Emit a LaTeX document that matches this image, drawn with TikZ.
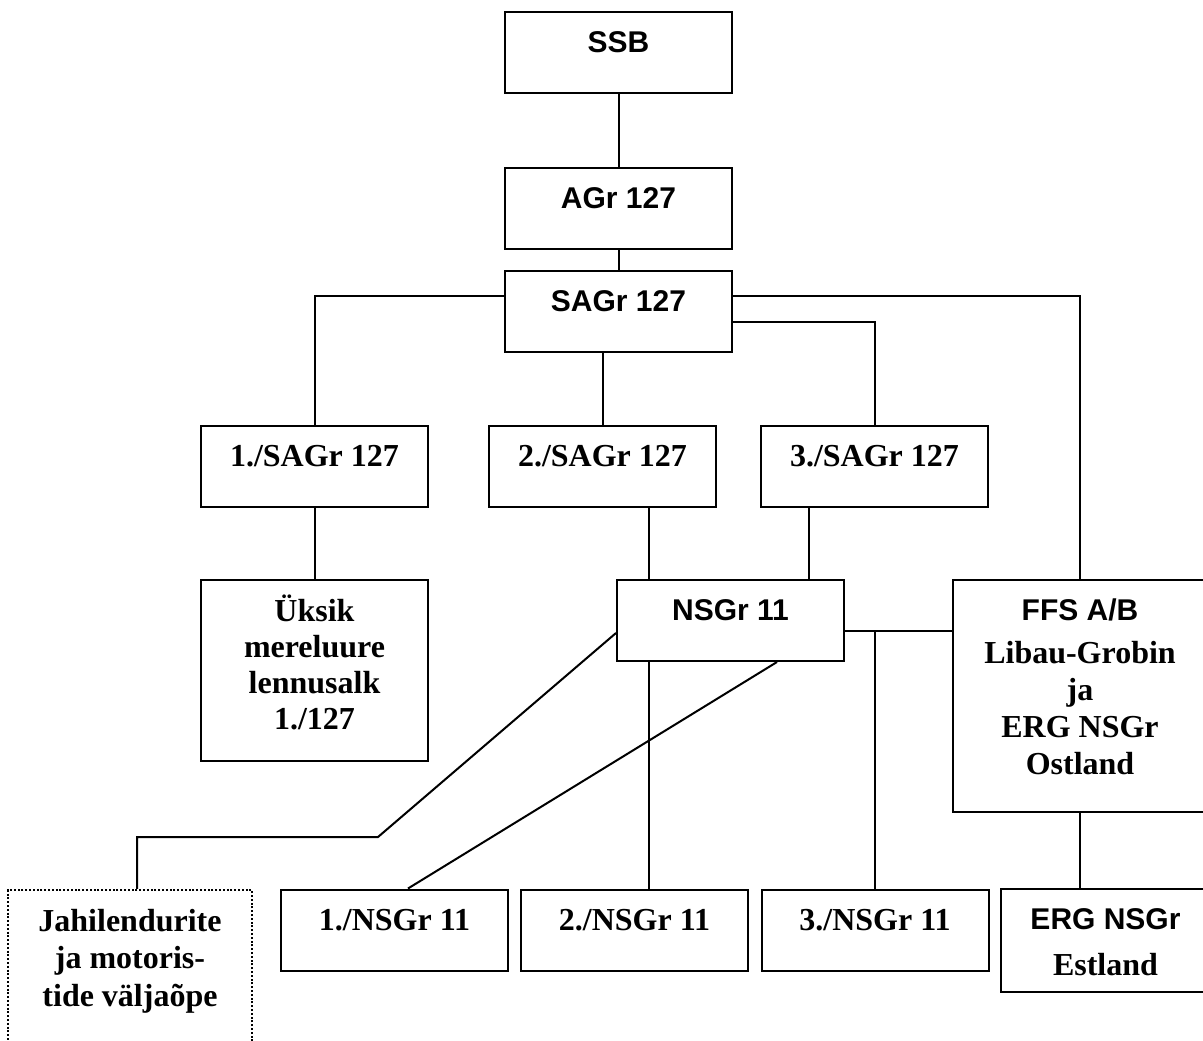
\documentclass[tikz,border=0pt]{standalone}
\usepackage{fontspec}
\setmainfont{Liberation Serif}
\newfontfamily\arialfont{Liberation Sans}
\usetikzlibrary{positioning}
\newcommand{\stackc}[1]{\begin{tabular}[t]{@{}c@{}}#1\end{tabular}}
\tikzset{
    unit/.style={draw, line width=2pt, inner sep=0pt, minimum width=227pt, minimum height=81pt,
        text height=22pt, text depth=22pt, font=\bfseries\fontsize{32}{37}\selectfont},
    hq/.style={unit, font=\arialfont\bfseries\fontsize{30}{37}\selectfont},
    dotbox/.style={unit, line width=2.4pt, dash pattern=on 2pt off 1.8pt},
    link/.style={line width=2pt}
}

\begin{document}
\begin{tikzpicture}[x=1pt, y=-1pt]
    \useasboundingbox (0, 0) rectangle (1203, 1041);
    \node[hq] (ssb) at (618.5, 53) {SSB};
    \node[hq] (agr) at (618.5, 208) {AGr 127};
    \node[hq] (sagr) at (618.5, 311) {SAGr 127};
    \node[unit] (sagr1) at (314.5, 466.5) {1./SAGr 127};
    \node[unit] (sagr2) at (602.5, 466.5) {2./SAGr 127};
    \node[unit] (sagr3) at (874.5, 466.5) {3./SAGr 127};
    \node[unit, minimum height=181pt, text height=25pt, text depth=124pt, font=\bfseries\fontsize{32}{36}\selectfont] (uksik) at (314.5, 670.5) {\stackc{Üksik\\mereluure\\lennusalk\\1./127}};
    \node[hq] (nsgr) at (730.5, 620.5) {NSGr 11};
    \node[unit, minimum width=254pt, minimum height=232pt, text height=25pt, text depth=175.6pt] (ffs) at (1080, 696) {\stackc{{\arialfont\fontsize{30}{37}\selectfont FFS A/B}\\[6pt]Libau-Grobin\\ja\\ERG NSGr\\Ostland}};
    \node[dotbox, minimum width=244pt, minimum height=200pt, text height=25pt, text depth=143pt, font=\bfseries\fontsize{32}{37.5}\selectfont] (jahi) at (130, 990) {\stackc{Jahilendurite\\ja motoris-\\tide väljaõpe}};
    \node[unit] (nsgr1) at (394.5, 930) {1./NSGr 11};
    \node[unit] (nsgr2) at (634.5, 930) {2./NSGr 11};
    \node[unit] (nsgr3) at (875, 930) {3./NSGr 11};
    \node[hq, minimum width=209pt, minimum height=103pt, text height=25pt, text depth=48pt] (erg) at (1105.5, 940.5) {\stackc{ERG NSGr\\[9pt]{\rmfamily\fontsize{32}{37}\selectfont Estland}}};
    \coordinate (xa) at (649, 0);
    \coordinate (xb) at (809, 0);
    \coordinate (hl) at ([yshift=-10.5pt]nsgr.east);
    \coordinate (bend) at (378, 837);
    \draw[link] (ssb) -- (agr);
    \draw[link] (agr) -- (sagr);
    \draw[link] ([yshift=15pt]sagr.west) -| (sagr1.north);
    \draw[link] (sagr.south -| sagr2.north) -- (sagr2.north);
    \draw[link] ([yshift=-11pt]sagr.east) -| (sagr3.north);
    \draw[link] ([yshift=15pt]sagr.east) -| (ffs.north);
    \draw[link] (sagr1) -- (uksik);
    \draw[link] (sagr2.south -| xa) -- (nsgr.north -| xa);
    \draw[link] (sagr3.south -| xb) -- (nsgr.north -| xb);
    \draw[link] (hl) -- (hl -| ffs.west);
    \draw[link] (hl -| nsgr3.north) -- (nsgr3.north);
    \draw[link] ([yshift=-12.5pt]nsgr.west) -- (bend) -| ([xshift=7pt]jahi.north);
    \draw[link] (nsgr.south -| xa) -- (nsgr2.north -| xa);
    \draw[link] ([xshift=46.5pt]nsgr.south) -- ([xshift=13.5pt]nsgr1.north);
    \draw[link] (ffs.south) -- (ffs.south |- erg.north);
\end{tikzpicture}
\end{document}
